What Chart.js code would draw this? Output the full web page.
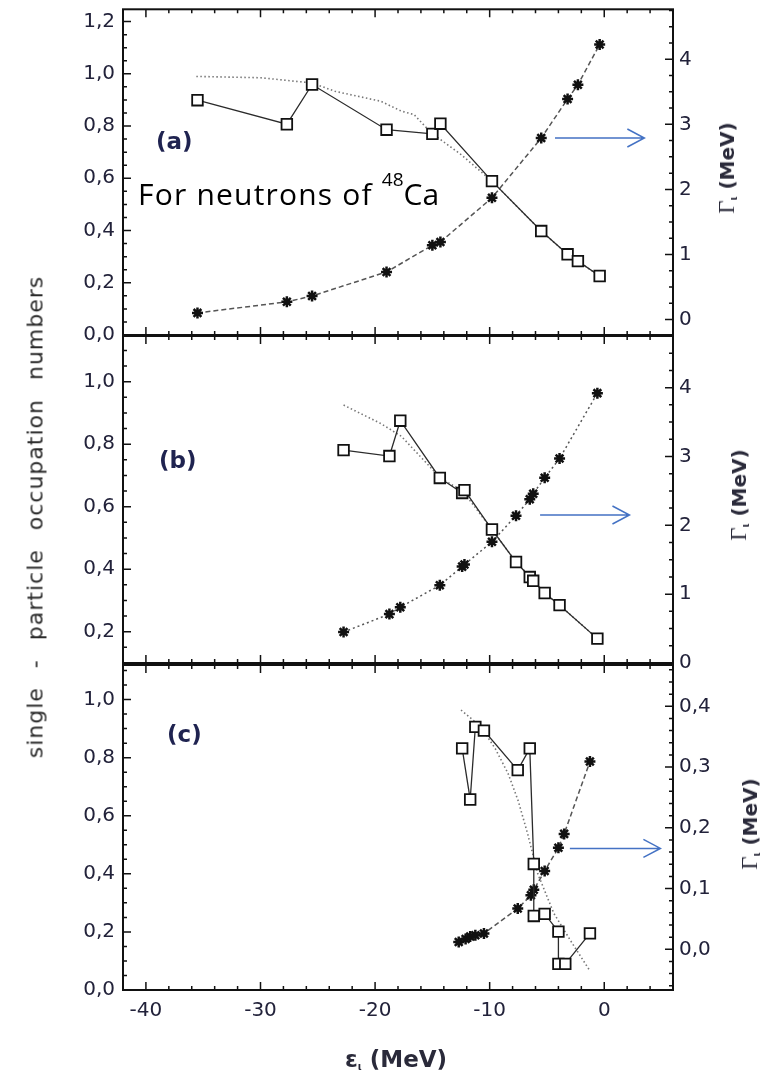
<!DOCTYPE html>
<html lang="en">
<head>
<meta charset="UTF-8">
<title>Single-particle occupation numbers</title>
<script src="https://cdn.jsdelivr.net/npm/chart.js"></script>
<style>
  body { margin: 0; background: #fff; }
  #wrap { position: relative; width: 773px; height: 1075px; overflow: hidden; background: #fff; }
  .panel { position: absolute; left: 0; width: 773px; }
  .txt { position: absolute; white-space: nowrap; line-height: 1; }
  .rot { transform: translate(-50%, -50%) rotate(-90deg); }
  .ylab { left: 35px; top: 517px; font: 22px "DejaVu Sans"; color: #2a2a2a; letter-spacing: 1px; word-spacing: 11px; }
  .rlab { font: bold 20px "DejaVu Sans"; color: #2a2a3a; line-height: 20px; }
  .rlab .g { font: 23px "Liberation Serif"; font-weight: normal; }
  .rlab sub, .xlab sub { font-size: 10px; vertical-align: -3px; line-height: 0; }
  .tag { font: bold 23px "DejaVu Sans"; color: #1f2350; }
  .note { left: 138px; top: 173px; font: 30px "Open Sans"; color: #000; }
  .note .w { letter-spacing: 1.2px; }
  .note sup { font-size: 19px; vertical-align: 19px; line-height: 0; }
  .xlab { left: 345px; top: 1046px; font: bold 23px "DejaVu Sans"; color: #2a2a3a; }
</style>
</head>
<body>
<div id="wrap">
  <div class="panel" style="top:0;height:345px"><canvas id="chartA"></canvas></div>
  <div class="panel" style="top:326px;height:347px"><canvas id="chartB"></canvas></div>
  <div class="panel" style="top:655px;height:420px"><canvas id="chartC"></canvas></div>

  <div class="txt rot ylab">single - particle occupation numbers</div>
  <div class="txt rot rlab" style="left:727px;top:168px"><span class="g">Γ</span><sub>ι</sub> (MeV)</div>
  <div class="txt rot rlab" style="left:739px;top:495px"><span class="g">Γ</span><sub>ι</sub> (MeV)</div>
  <div class="txt rot rlab" style="left:750px;top:824px"><span class="g">Γ</span><sub>ι</sub> (MeV)</div>
  <div class="txt tag" style="left:156px;top:128px">(a)</div>
  <div class="txt tag" style="left:159px;top:447px">(b)</div>
  <div class="txt tag" style="left:167px;top:721px">(c)</div>
  <div class="txt note"><span class="w">For neutrons of </span><sup>48</sup>Ca</div>
  <div class="txt xlab">ε<sub>ι</sub> (MeV)</div>
</div>

<script>
// ---- panel (a) ----
const energyA = [-35.5, -27.7, -25.5, -19.0, -15.0, -14.3, -9.8, -5.5, -3.2, -2.3, -0.4];
const occupationA = [0.899, 0.807, 0.959, 0.786, 0.770, 0.809, 0.589, 0.398, 0.309, 0.283, 0.226];
const widthA = [0.10, 0.27, 0.36, 0.73, 1.14, 1.19, 1.87, 2.79, 3.39, 3.61, 4.23];
const theoryEnergyA = [-35.6, -30.0, -25.5, -23.5, -19.5, -17.7, -16.6, -15.1, -12.5, -9.8, -5.5, -3.2, -0.4];
const theoryOccA = [0.99, 0.985, 0.965, 0.933, 0.895, 0.857, 0.844, 0.774, 0.691, 0.589, 0.398, 0.309, 0.226];

// ---- panel (b) ----
const energyB = [-22.75, -18.75, -17.8, -14.35, -12.4, -12.2, -9.8, -7.7, -6.5, -6.2, -5.2, -3.9, -0.6];
const occupationB = [0.781, 0.762, 0.875, 0.692, 0.644, 0.653, 0.527, 0.423, 0.375, 0.363, 0.324, 0.285, 0.178];
const widthB = [0.45, 0.71, 0.81, 1.13, 1.40, 1.43, 1.76, 2.14, 2.38, 2.46, 2.69, 2.97, 3.92];
const theoryEnergyB = [-22.75, -19.5, -17.7, -14.3, -12.3, -9.8, -7.7, -6.3, -5.2, -3.9, -0.6];
const theoryOccB = [0.925, 0.866, 0.825, 0.692, 0.648, 0.527, 0.423, 0.37, 0.324, 0.285, 0.178];

// ---- panel (c) ----
const energyC = [-12.4, -11.7, -11.25, -10.5, -7.55, -6.5, -6.15, -6.15, -5.2, -4.0, -4.0, -3.4, -1.25];
const occupationC = [0.832, 0.656, 0.906, 0.893, 0.757, 0.832, 0.434, 0.255, 0.262, 0.201, 0.09, 0.09, 0.195];
const widthEnergyC = [-12.7, -12.1, -11.7, -11.25, -10.5, -7.55, -6.4, -6.15, -5.2, -4.0, -3.5, -1.25];
const widthC = [0.012, 0.017, 0.021, 0.023, 0.026, 0.067, 0.089, 0.098, 0.129, 0.167, 0.190, 0.309];
const theoryEnergyC = [-12.5, -10.75, -9.5, -8.4, -7.5, -6.7, -5.8, -4.4, -2.8, -1.3];
const theoryOccC = [0.964, 0.906, 0.83, 0.746, 0.65, 0.54, 0.40, 0.264, 0.161, 0.069];

const pts = (xs, ys) => xs.map((x, i) => ({ x: x, y: ys[i] }));
const comma = v => v.toFixed(1).replace('.', ',');
const tickFont = { family: 'DejaVu Sans', size: 20 };
const tickColor = '#22223a';

// frame, inward ticks and the blue arrow
const panelDeco = {
  id: 'panelDeco',
  afterDatasetsDraw(chart, args, opts) {
    const ctx = chart.ctx, a = chart.chartArea;
    ctx.save();
    ctx.strokeStyle = '#111';
    ctx.lineWidth = 2;
    ctx.strokeRect(a.left, a.top, a.right - a.left, a.bottom - a.top);

    ctx.lineWidth = 1.5;
    const marks = (scale, major, minor) => {
      const out = [];
      for (let k = Math.ceil(scale.min / minor - 1e-9); k * minor <= scale.max + 1e-9; k++) {
        const v = k * minor;
        const isMajor = Math.abs(v / major - Math.round(v / major)) < 1e-6;
        out.push([scale.getPixelForValue(v), isMajor ? 8 : 4]);
      }
      return out;
    };
    ctx.beginPath();
    marks(chart.scales.x, opts.x[0], opts.x[1]).forEach(([p, l]) => {
      ctx.moveTo(p, a.top); ctx.lineTo(p, a.top + l);
      ctx.moveTo(p, a.bottom); ctx.lineTo(p, a.bottom - l);
    });
    marks(chart.scales.y, opts.y[0], opts.y[1]).forEach(([p, l]) => {
      ctx.moveTo(a.left, p); ctx.lineTo(a.left + l, p);
    });
    marks(chart.scales.y2, opts.y2[0], opts.y2[1]).forEach(([p, l]) => {
      ctx.moveTo(a.right, p); ctx.lineTo(a.right - l, p);
    });
    ctx.stroke();

    const ar = opts.arrow;
    const x0 = chart.scales.x.getPixelForValue(ar.from);
    const x1 = chart.scales.x.getPixelForValue(ar.to);
    const y = chart.scales.y2.getPixelForValue(ar.at);
    ctx.strokeStyle = '#4472c4';
    ctx.lineWidth = 1.5;
    ctx.beginPath();
    ctx.moveTo(x0, y); ctx.lineTo(x1, y);
    ctx.moveTo(x1 - 17, y - 9); ctx.lineTo(x1, y); ctx.lineTo(x1 - 17, y + 9);
    ctx.stroke();
    ctx.restore();
  }
};

function buildPanel(id, p) {
  const noPad = s => { s.paddingTop = 0; s.paddingBottom = 0; s.paddingLeft = 0; s.paddingRight = 0; };
  return new Chart(document.getElementById(id), {
    type: 'scatter',
    data: {
      datasets: [
        {
          data: pts(p.squaresX, p.squaresY), yAxisID: 'y', showLine: true,
          borderColor: '#2b2b2b', borderWidth: 1.3,
          pointStyle: 'rect', pointRadius: 7.5, pointBorderWidth: 1.8,
          pointBorderColor: '#111', pointBackgroundColor: '#fff'
        },
        {
          data: pts(p.theoryX, p.theoryY), yAxisID: 'y', showLine: true,
          borderColor: '#777', borderWidth: 1.6, borderDash: [1.5, 2.5], pointRadius: 0
        },
        {
          data: pts(p.starsX, p.starsY), yAxisID: 'y2', showLine: true,
          borderColor: '#555', borderWidth: 1.5, borderDash: p.starDash,
          pointStyle: 'star', pointRadius: 5.5, pointBorderWidth: 2.5,
          pointBorderColor: '#111', pointBackgroundColor: '#111'
        }
      ]
    },
    options: {
      responsive: true,
      maintainAspectRatio: false,
      animation: false,
      events: [],
      layout: { padding: { top: p.padTop, left: 0, right: 0, bottom: 0 } },
      plugins: {
        legend: { display: false },
        tooltip: { enabled: false },
        panelDeco: { x: [10, 2], y: [0.2, 0.05], y2: p.rightMarks, arrow: p.arrow }
      },
      scales: {
        x: {
          type: 'linear', min: -42, max: 6,
          grid: { display: false, drawTicks: false }, border: { display: false },
          ticks: { display: p.showX, stepSize: 10, includeBounds: false, font: tickFont, color: tickColor, padding: 9, maxRotation: 0 },
          afterFit: s => { s.height = p.xHeight; noPad(s); }
        },
        y: {
          type: 'linear', position: 'left', min: p.yMin, max: p.yMax,
          grid: { display: false, drawTicks: false }, border: { display: false },
          ticks: { stepSize: 0.2, includeBounds: false, font: tickFont, color: tickColor, padding: 8, callback: comma },
          afterFit: s => { s.width = 123; noPad(s); }
        },
        y2: {
          type: 'linear', position: 'right', min: p.rMin, max: p.rMax,
          grid: { display: false, drawTicks: false }, border: { display: false },
          ticks: { stepSize: p.rightMarks[0], includeBounds: false, font: tickFont, color: tickColor, padding: 6, callback: p.rightFmt },
          afterFit: s => { s.width = 100; noPad(s); }
        }
      }
    },
    plugins: [panelDeco]
  });
}

buildPanel('chartA', {
  squaresX: energyA, squaresY: occupationA,
  theoryX: theoryEnergyA, theoryY: theoryOccA,
  starsX: energyA, starsY: widthA, starDash: [5, 3],
  yMin: 0, yMax: 1.247, rMin: -0.24, rMax: 4.77,
  rightMarks: [1, 0.25], rightFmt: v => String(v),
  arrow: { from: -4.3, to: 3.5, at: 2.79 },
  padTop: 8, xHeight: 10, showX: false
});

buildPanel('chartB', {
  squaresX: energyB, squaresY: occupationB,
  theoryX: theoryEnergyB, theoryY: theoryOccB,
  starsX: energyB, starsY: widthB, starDash: [2, 3],
  yMin: 0.1, yMax: 1.146, rMin: 0, rMax: 4.75,
  rightMarks: [1, 0.25], rightFmt: v => String(v),
  arrow: { from: -5.6, to: 2.2, at: 2.15 },
  padTop: 10, xHeight: 10, showX: false
});

buildPanel('chartC', {
  squaresX: energyC, squaresY: occupationC,
  theoryX: theoryEnergyC, theoryY: theoryOccC,
  starsX: widthEnergyC, starsY: widthC, starDash: [5, 3],
  yMin: 0, yMax: 1.119, rMin: -0.067, rMax: 0.468,
  rightMarks: [0.1, 0.02], rightFmt: comma,
  arrow: { from: -3.0, to: 4.9, at: 0.166 },
  padTop: 10, xHeight: 85, showX: true
});
</script>
</body>
</html>
